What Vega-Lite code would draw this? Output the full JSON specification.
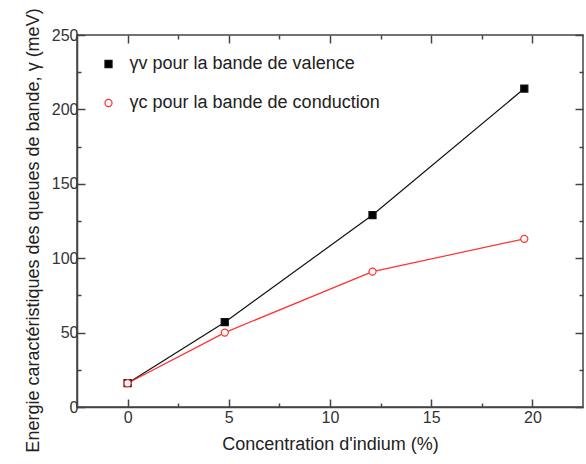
{
  "$schema": "https://vega.github.io/schema/vega-lite/v6.json",
  "width": 506,
  "height": 372,
  "autosize": "none",
  "padding": {"left": 77, "top": 35, "right": 3, "bottom": 57},
  "config": {
    "font": "Liberation Sans",
    "view": {"stroke": "#444", "strokeWidth": 1.5},
    "legend": {
      "orient": "none", "legendX": 22.5, "legendY": 20, "title": null,
      "labelFontSize": 18, "labelColor": "#222", "labelLimit": 0, "labelOffset": 12,
      "symbolSize": 50, "symbolStrokeWidth": 1.2, "rowPadding": 21, "padding": 0
    },
    "axis": {
      "domainColor": "#444", "domainWidth": 1.5, "tickColor": "#444", "tickWidth": 1.5,
      "labelColor": "#333", "labelFontSize": 16, "titleColor": "#222", "titleFontSize": 18,
      "titleFontWeight": "normal", "grid": false, "tickSize": -8
    }
  },
  "data": {
    "values": [
      {"conc": 0, "gamma": 16, "bande": "γv pour la bande de valence"},
      {"conc": 4.8, "gamma": 57, "bande": "γv pour la bande de valence"},
      {"conc": 12.1, "gamma": 129, "bande": "γv pour la bande de valence"},
      {"conc": 19.6, "gamma": 214, "bande": "γv pour la bande de valence"},
      {"conc": 0, "gamma": 16, "bande": "γc pour la bande de conduction"},
      {"conc": 4.8, "gamma": 50, "bande": "γc pour la bande de conduction"},
      {"conc": 12.1, "gamma": 91, "bande": "γc pour la bande de conduction"},
      {"conc": 19.6, "gamma": 113, "bande": "γc pour la bande de conduction"}
    ]
  },
  "layer": [
    {
      "mark": {"type": "line", "strokeWidth": 1.2},
      "encoding": {
        "x": {"field": "conc", "type": "quantitative", "scale": {"domain": [-2.5, 22.5], "nice": false, "zero": false},
          "axis": {"orient": "bottom", "title": "Concentration d'indium (%)", "values": [0, 2.5, 5, 7.5, 10, 12.5, 15, 17.5, 20],
            "labelExpr": "datum.value % 5 === 0 ? datum.label : ''",
            "tickDash": {"condition": {"test": "datum.value % 5 === 0", "value": [8, 0]}, "value": [4, 30]},
            "labelPadding": 10, "titlePadding": 10}},
        "y": {"field": "gamma", "type": "quantitative", "scale": {"domain": [0, 250], "nice": false},
          "axis": {"orient": "left", "title": "Energie caractéristiques des queues de bande, γ (meV)",
            "titleFontSize": 18, "titleY": 195,
            "values": [0, 25, 50, 75, 100, 125, 150, 175, 200, 225, 250],
            "labelExpr": "datum.value % 50 === 0 ? datum.label : ''",
            "tickDash": {"condition": {"test": "datum.value % 50 === 0", "value": [8, 0]}, "value": [4, 30]},
            "labelPadding": 7, "titlePadding": 9}},
        "color": {"field": "bande", "type": "nominal",
          "scale": {"domain": ["γv pour la bande de valence", "γc pour la bande de conduction"], "range": ["#111", "#ff3030"]}}
      }
    },
    {
      "mark": {"type": "point", "opacity": 1, "strokeWidth": 1.2, "size": 50},
      "encoding": {
        "x": {"field": "conc", "type": "quantitative",
          "axis": {"orient": "top", "title": null, "labels": false, "domain": false, "values": [0, 2.5, 5, 7.5, 10, 12.5, 15, 17.5, 20],
            "tickDash": {"condition": {"test": "datum.value % 5 === 0", "value": [8, 0]}, "value": [4, 30]}}},
        "y": {"field": "gamma", "type": "quantitative",
          "axis": {"orient": "right", "title": null, "labels": false, "domain": false, "values": [0, 25, 50, 75, 100, 125, 150, 175, 200, 225, 250],
            "tickDash": {"condition": {"test": "datum.value % 50 === 0", "value": [8, 0]}, "value": [4, 30]}}},
        "color": {"field": "bande", "type": "nominal"},
        "fill": {"field": "bande", "type": "nominal",
          "scale": {"domain": ["γv pour la bande de valence", "γc pour la bande de conduction"], "range": ["#000", "#fff"]}},
        "shape": {"field": "bande", "type": "nominal",
          "scale": {"domain": ["γv pour la bande de valence", "γc pour la bande de conduction"], "range": ["square", "circle"]}}
      }
    }
  ]
}
